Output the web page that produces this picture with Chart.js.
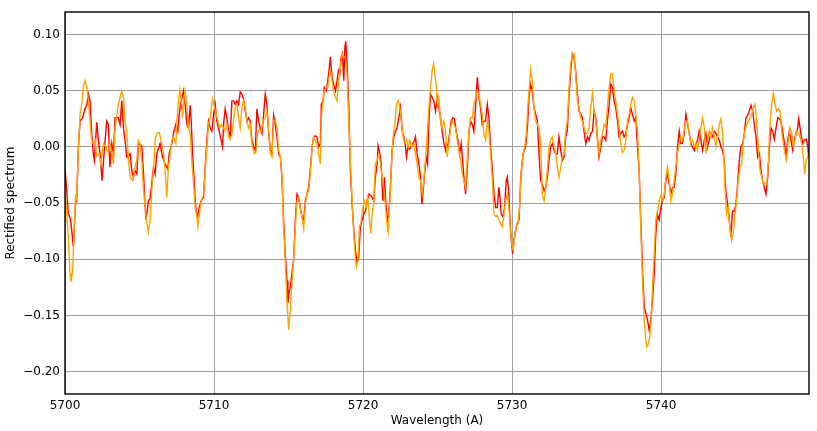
<!DOCTYPE html>
<html><head><meta charset="utf-8">
<script src="https://cdn.jsdelivr.net/npm/chart.js@4.4.1/dist/chart.umd.min.js"></script>
<style>html,body{margin:0;padding:0;background:#fff;}#wrap{width:817px;height:431px;}</style>
</head><body><div id="wrap"><canvas id="c" width="817" height="431"></canvas></div>
<script>
// wavelengths are stored as offsets (A) from this start value
const wavelengthStart = 5700;

const redOffsets = [0.00,0.22,0.38,0.47,0.56,0.65,0.74,0.78,0.90,1.01,1.19,1.34,1.46,1.57,1.68,1.79,1.90,1.97,2.13,2.24,2.35,2.49,2.62,2.80,2.91,3.02,3.14,3.25,3.36,3.58,3.70,3.81,3.92,4.03,4.14,4.37,4.48,4.59,4.70,4.82,4.93,5.15,5.26,5.38,5.44,5.60,5.71,5.82,5.94,
6.05,6.16,6.38,6.54,6.72,6.90,6.99,7.17,7.28,7.44,7.57,7.66,7.80,7.95,8.06,8.18,8.29,8.40,8.47,8.56,8.67,8.74,8.81,8.92,9.01,9.14,9.30,9.41,9.52,9.63,9.74,9.86,9.97,10.08,10.19,10.35,10.48,10.57,10.66,10.75,10.86,10.98,11.09,11.20,11.31,11.42,11.54,11.65,11.76,11.87,11.98,12.10,12.21,12.32,
12.43,12.54,12.66,12.77,12.88,12.99,13.10,13.22,13.33,13.44,13.55,13.66,13.78,13.89,14.00,14.11,14.22,14.34,14.45,14.56,14.67,14.78,14.90,14.96,15.03,15.12,15.23,15.34,15.46,15.57,15.68,15.79,15.90,16.02,16.13,16.24,16.35,16.46,16.58,16.69,16.80,16.91,17.02,17.14,17.20,17.32,17.40,17.54,17.63,17.72,17.81,17.92,18.03,18.15,18.26,18.35,18.44,18.53,18.62,18.71,18.78,18.84,18.93,19.04,
19.15,19.27,19.38,19.49,19.60,19.71,19.82,19.94,20.05,20.16,20.27,20.39,20.50,20.61,20.72,20.83,20.95,21.01,21.13,21.22,21.33,21.44,21.55,21.64,21.73,21.84,21.95,22.07,22.18,22.29,22.40,22.51,22.63,22.74,22.85,22.92,23.01,23.12,23.23,23.34,23.46,23.52,23.63,23.75,23.86,23.95,24.04,24.13,24.24,24.33,24.42,24.53,24.64,24.75,24.87,24.98,25.09,25.20,25.31,25.43,25.54,
25.60,25.69,25.81,25.92,26.03,26.14,26.25,26.37,26.48,26.59,26.68,26.77,26.88,26.99,27.11,27.22,27.33,27.44,27.55,27.67,27.78,27.89,28.00,28.11,28.23,28.34,28.45,28.56,28.67,28.79,28.90,29.01,29.12,29.19,29.28,29.39,29.50,29.61,29.68,29.79,29.86,29.95,30.04,30.13,30.24,30.36,30.47,30.58,30.69,30.80,30.91,31.03,31.14,31.25,31.36,31.47,31.59,31.70,31.81,31.92,
32.03,32.15,32.26,32.37,32.48,32.59,32.71,32.82,32.93,33.04,33.15,33.27,33.38,33.49,33.60,33.71,33.83,33.94,34.05,34.16,34.27,34.39,34.50,34.61,34.72,34.83,34.95,35.06,35.17,35.28,35.40,35.51,35.62,35.73,35.84,35.96,36.07,36.18,36.29,36.40,36.52,36.63,36.74,36.85,36.96,37.08,37.19,37.30,37.41,37.52,37.64,37.75,37.86,37.97,38.08,38.20,38.31,
38.42,38.53,38.64,38.76,38.87,38.98,39.09,39.20,39.31,39.43,39.54,39.65,39.76,39.87,39.99,40.10,40.21,40.32,40.43,40.55,40.66,40.77,40.88,40.99,41.11,41.22,41.33,41.44,41.55,41.67,41.78,41.89,42.00,42.11,42.23,42.34,42.45,42.56,42.67,42.79,42.90,43.01,43.12,43.23,43.35,43.46,43.57,43.68,43.79,43.91,44.02,44.13,44.24,
44.35,44.47,44.58,44.69,44.80,44.92,45.03,45.14,45.25,45.36,45.48,45.59,45.70,45.81,45.92,46.04,46.15,46.26,46.37,46.48,46.60,46.71,46.82,46.93,47.04,47.16,47.27,47.38,47.49,47.60,47.72,47.83,47.94,48.05,48.16,48.28,48.39,48.50,48.61,48.72,48.84,48.95,49.06,49.17,49.24,49.33,49.42,49.51,49.62,49.74,49.85,49.91];

const redFlux = [-0.018,-0.059,-0.065,-0.077,-0.089,-0.065,-0.042,-0.049,0.000,0.023,0.026,0.034,0.037,0.047,0.041,0.012,-0.006,-0.012,0.022,0.006,-0.006,-0.030,-0.006,0.023,0.020,-0.018,0.003,-0.006,0.026,0.026,0.020,0.041,0.017,0.006,-0.009,-0.006,-0.021,-0.027,-0.021,-0.024,0.003,0.001,-0.021,-0.054,-0.065,-0.048,-0.046,-0.033,-0.018,
-0.024,-0.006,0.003,-0.009,-0.015,-0.020,-0.006,0.003,0.012,0.020,0.014,0.029,0.041,0.050,0.038,0.020,0.017,0.037,0.023,-0.006,-0.030,-0.048,-0.057,-0.062,-0.054,-0.048,-0.045,-0.018,0.006,0.023,0.017,0.014,0.029,0.038,0.023,0.014,0.006,0.000,0.023,0.034,0.026,0.014,0.009,0.041,0.041,0.038,0.041,0.038,0.049,0.047,0.043,0.032,0.023,0.026,
0.023,0.006,0.000,-0.003,0.034,0.023,0.017,0.012,0.029,0.047,0.038,0.014,-0.003,-0.006,0.028,0.020,0.009,-0.006,-0.009,-0.027,-0.065,-0.095,-0.119,-0.139,-0.130,-0.125,-0.113,-0.101,-0.065,-0.042,-0.045,-0.054,-0.062,-0.065,-0.048,-0.042,-0.036,-0.021,0.000,0.009,0.010,0.009,0.000,0.003,0.038,0.041,0.053,0.050,0.059,0.068,0.080,0.062,0.056,0.050,0.059,0.068,0.065,0.080,0.083,0.059,0.088,0.094,0.074,0.038,
-0.021,-0.051,-0.074,-0.092,-0.102,-0.099,-0.071,-0.065,-0.060,-0.057,-0.048,-0.042,-0.043,-0.045,-0.048,-0.027,-0.015,0.001,-0.006,-0.015,-0.048,-0.027,-0.054,-0.065,-0.060,-0.036,-0.003,0.009,0.014,0.017,0.026,0.035,0.014,0.009,0.000,-0.009,0.000,-0.002,0.000,0.003,0.006,0.009,-0.006,-0.015,-0.027,-0.051,-0.039,-0.024,-0.009,-0.015,0.023,0.047,0.044,0.041,0.032,0.044,0.035,0.026,0.014,0.003,-0.003,
0.003,0.000,0.012,0.023,0.026,0.025,0.014,0.006,-0.006,0.003,-0.012,-0.027,-0.042,-0.021,0.014,0.023,0.020,0.014,0.035,0.062,0.044,0.035,0.020,0.023,0.023,0.038,0.026,0.000,-0.018,-0.042,-0.054,-0.054,-0.036,-0.045,-0.060,-0.062,-0.054,-0.030,-0.027,-0.042,-0.065,-0.083,-0.095,-0.083,-0.074,-0.068,-0.065,-0.030,-0.012,-0.003,0.000,0.017,0.044,0.056,0.050,0.035,0.029,0.023,-0.006,-0.030,
-0.033,-0.039,-0.036,-0.027,-0.012,0.000,0.003,-0.003,-0.006,-0.006,0.009,-0.003,-0.012,-0.009,0.009,0.014,0.047,0.068,0.083,0.080,0.068,0.047,0.032,0.029,0.026,0.014,0.003,0.009,0.006,0.012,0.014,0.032,0.026,0.009,-0.009,0.000,0.009,0.009,0.006,0.023,0.038,0.056,0.053,0.041,0.035,0.023,0.009,0.012,0.014,0.009,0.012,0.020,0.026,0.035,0.029,0.023,0.026,
0.000,-0.021,-0.065,-0.110,-0.142,-0.148,-0.154,-0.163,-0.154,-0.136,-0.113,-0.077,-0.060,-0.065,-0.054,-0.048,-0.045,-0.030,-0.024,-0.033,-0.042,-0.036,-0.036,-0.024,0.000,0.014,0.003,0.003,0.012,0.029,0.020,0.012,0.003,0.000,-0.003,0.003,0.006,0.014,0.006,-0.003,0.006,0.012,0.000,0.006,0.012,0.009,0.014,0.012,0.009,0.006,0.000,-0.003,-0.012,
-0.040,-0.051,-0.065,-0.080,-0.057,-0.057,-0.051,-0.033,-0.012,0.000,0.003,0.012,0.026,0.028,0.032,0.037,0.032,0.020,0.009,-0.009,-0.006,-0.021,-0.030,-0.036,-0.042,-0.027,0.000,0.017,0.014,0.007,0.017,0.026,0.025,0.023,0.014,0.003,-0.009,0.006,0.014,0.006,-0.003,0.006,0.012,0.017,0.025,0.017,0.009,0.003,0.006,0.007,0.000,-0.009];

const orangeOffsets = [0.00,0.22,0.34,0.40,0.52,0.60,0.72,0.78,0.90,1.01,1.12,1.23,1.34,1.46,1.57,1.68,1.79,1.90,2.02,2.13,2.28,2.40,2.58,2.76,2.91,3.02,3.14,3.25,3.36,3.58,3.70,3.81,3.92,4.03,4.14,4.26,4.37,4.55,4.70,4.82,4.93,5.04,5.15,5.26,5.38,5.49,5.60,5.71,5.82,5.94,
6.05,6.16,6.32,6.45,6.61,6.72,6.83,6.94,7.06,7.17,7.28,7.44,7.51,7.62,7.71,7.80,7.89,7.97,8.06,8.18,8.29,8.40,8.51,8.63,8.74,8.83,8.92,9.01,9.14,9.30,9.41,9.52,9.63,9.74,9.90,10.04,10.15,10.26,10.37,10.48,10.64,10.75,10.86,10.98,11.09,11.20,11.31,11.42,11.54,11.65,11.76,11.87,11.98,12.10,12.21,12.32,
12.43,12.54,12.70,12.81,12.93,13.06,13.17,13.28,13.44,13.55,13.66,13.78,13.89,14.00,14.11,14.22,14.34,14.45,14.56,14.67,14.78,14.90,15.01,15.12,15.23,15.34,15.46,15.57,15.68,15.79,15.90,16.02,16.13,16.24,16.35,16.46,16.58,16.69,16.80,16.91,17.02,17.14,17.20,17.32,17.40,17.54,17.63,17.72,17.81,17.92,18.03,18.15,18.26,18.37,18.48,18.60,18.71,18.82,18.93,19.04,
19.15,19.27,19.38,19.49,19.56,19.67,19.76,19.87,19.98,20.09,20.21,20.32,20.43,20.52,20.61,20.72,20.83,20.95,21.06,21.17,21.28,21.39,21.51,21.62,21.69,21.80,21.91,22.02,22.13,22.25,22.36,22.47,22.58,22.69,22.80,22.92,23.03,23.14,23.25,23.41,23.52,23.63,23.75,23.86,23.97,24.08,24.19,24.30,24.42,24.53,24.64,24.73,24.82,24.91,25.00,25.09,25.20,25.31,25.43,25.54,
25.65,25.76,25.87,25.99,26.10,26.21,26.32,26.43,26.55,26.66,26.77,26.88,26.99,27.11,27.22,27.33,27.44,27.55,27.67,27.78,27.89,28.00,28.11,28.23,28.34,28.45,28.56,28.67,28.79,28.90,29.01,29.12,29.23,29.35,29.46,29.57,29.68,29.79,29.91,30.02,30.08,30.17,30.29,30.40,30.51,30.62,30.74,30.85,30.96,31.07,31.16,31.25,31.36,31.47,31.59,31.70,31.81,31.92,
32.03,32.15,32.26,32.37,32.48,32.59,32.71,32.82,32.93,33.04,33.15,33.27,33.38,33.49,33.60,33.71,33.83,33.94,34.05,34.16,34.27,34.39,34.50,34.61,34.72,34.83,34.95,35.06,35.17,35.28,35.40,35.51,35.62,35.73,35.84,35.96,36.07,36.18,36.29,36.40,36.52,36.63,36.74,36.85,36.96,37.08,37.19,37.30,37.41,37.52,37.64,37.75,37.86,37.97,38.08,38.20,38.31,
38.42,38.53,38.64,38.76,38.87,38.98,39.04,39.15,39.25,39.34,39.43,39.54,39.65,39.76,39.87,39.99,40.10,40.21,40.32,40.43,40.55,40.66,40.77,40.88,40.99,41.11,41.22,41.33,41.44,41.55,41.67,41.78,41.89,42.00,42.11,42.23,42.34,42.45,42.56,42.67,42.79,42.90,43.01,43.12,43.23,43.35,43.46,43.57,43.68,43.79,43.91,44.02,44.13,44.24,
44.29,44.40,44.51,44.62,44.74,44.85,44.96,45.07,45.18,45.30,45.41,45.52,45.63,45.74,45.86,45.97,46.08,46.20,46.31,46.42,46.53,46.64,46.76,46.87,46.98,47.09,47.20,47.31,47.42,47.54,47.65,47.76,47.87,47.99,48.10,48.21,48.32,48.43,48.54,48.66,48.77,48.88,48.99,49.10,49.22,49.33,49.44,49.55,49.64,49.74,49.85,49.91];

const orangeFlux = [-0.036,-0.080,-0.113,-0.120,-0.110,-0.077,-0.042,-0.048,0.000,0.029,0.038,0.054,0.059,0.053,0.041,0.023,0.006,0.003,0.006,-0.008,-0.006,-0.015,0.003,0.000,-0.006,0.003,-0.005,-0.015,0.017,0.038,0.044,0.050,0.044,0.023,0.014,-0.012,-0.027,-0.030,-0.018,-0.012,0.006,0.003,-0.012,-0.036,-0.054,-0.068,-0.076,-0.065,-0.039,-0.021,
0.006,0.012,0.013,0.006,-0.006,-0.021,-0.045,-0.018,-0.006,0.006,0.009,0.003,0.023,0.041,0.051,0.041,0.026,0.041,0.050,0.035,0.017,0.012,-0.012,-0.033,-0.054,-0.060,-0.071,-0.060,-0.049,-0.042,-0.021,0.000,0.020,0.026,0.043,0.035,0.029,0.023,0.017,0.020,0.017,0.014,0.020,0.009,0.007,0.012,0.023,0.035,0.038,0.026,0.017,0.035,0.041,0.035,0.023,0.017,
0.020,0.003,-0.006,-0.005,0.012,0.016,0.014,0.023,0.026,0.032,0.017,-0.006,-0.009,0.023,0.025,0.017,-0.003,-0.008,-0.027,-0.071,-0.101,-0.139,-0.163,-0.145,-0.122,-0.101,-0.071,-0.048,-0.045,-0.054,-0.062,-0.073,-0.051,-0.042,-0.039,-0.024,0.000,0.009,0.006,0.003,-0.006,-0.015,0.026,0.041,0.050,0.053,0.053,0.062,0.068,0.059,0.050,0.044,0.041,0.062,0.071,0.083,0.080,0.080,0.065,0.023,
-0.012,-0.048,-0.077,-0.101,-0.107,-0.101,-0.071,-0.067,-0.054,-0.048,-0.054,-0.045,-0.065,-0.077,-0.060,-0.048,-0.015,-0.012,-0.006,-0.015,-0.027,-0.036,-0.054,-0.071,-0.076,-0.048,-0.015,0.009,0.020,0.038,0.041,0.035,0.023,0.009,0.003,0.006,0.000,0.006,0.000,0.003,-0.006,-0.015,-0.027,-0.030,-0.042,-0.030,-0.012,0.009,0.035,0.053,0.068,0.074,0.065,0.056,0.035,0.044,0.023,0.017,0.023,0.015,
-0.009,0.003,0.017,0.023,0.020,0.017,0.006,-0.003,-0.012,-0.024,-0.030,-0.036,-0.012,0.014,0.026,0.026,0.038,0.044,0.050,0.047,0.038,0.029,0.012,0.006,0.023,0.014,-0.006,-0.027,-0.060,-0.062,-0.061,-0.065,-0.068,-0.071,-0.060,-0.048,-0.042,-0.054,-0.077,-0.089,-0.092,-0.080,-0.071,-0.068,-0.054,-0.021,-0.006,0.000,0.012,0.038,0.053,0.069,0.059,0.035,0.023,0.020,0.017,0.003,
-0.042,-0.048,-0.036,-0.021,0.000,0.006,0.009,0.000,-0.006,-0.018,-0.027,-0.018,-0.009,-0.006,0.014,0.023,0.053,0.074,0.083,0.083,0.065,0.041,0.035,0.026,0.023,0.017,0.012,0.012,0.017,0.035,0.048,0.032,0.023,0.006,-0.006,0.006,0.012,0.020,0.017,0.035,0.053,0.065,0.065,0.050,0.041,0.029,0.017,0.003,-0.005,-0.003,0.006,0.023,0.029,0.038,0.044,0.041,0.029,
0.014,-0.021,-0.071,-0.119,-0.154,-0.172,-0.178,-0.175,-0.169,-0.154,-0.125,-0.095,-0.065,-0.057,-0.048,-0.043,-0.048,-0.042,-0.027,-0.018,-0.030,-0.048,-0.042,-0.030,-0.018,-0.006,0.003,0.009,0.006,0.014,0.023,0.023,0.012,0.003,0.006,0.000,0.003,-0.003,0.006,0.017,0.026,0.017,-0.006,0.006,0.014,0.009,0.017,0.009,0.000,0.009,0.020,0.025,0.012,-0.015,
-0.036,-0.060,-0.054,-0.071,-0.083,-0.077,-0.060,-0.048,-0.030,-0.018,-0.015,0.006,0.014,0.020,0.023,0.026,0.029,0.035,0.038,0.023,0.000,-0.021,-0.027,-0.033,-0.032,-0.033,-0.015,0.020,0.038,0.048,0.038,0.032,0.034,0.032,0.014,0.003,-0.006,-0.012,0.006,0.017,0.012,0.000,0.006,0.014,0.012,0.009,0.003,-0.009,-0.024,-0.012,-0.009,-0.006];

const xTicks = [5700, 5710, 5720, 5730, 5740];
const yTicks = [0.10, 0.05, 0.00, -0.05, -0.10, -0.15, -0.20];
const xLimits = [5700, 5749.93];
const yLimits = [-0.22, 0.12];

function toPoints(offsets, flux) {
  return offsets.map((o, i) => ({ x: wavelengthStart + o, y: flux[i] }));
}

const framePlugin = {
  id: 'frame',
  afterDraw(chart) {
    const { ctx, chartArea: a } = chart;
    ctx.save();
    ctx.strokeStyle = '#000';
    ctx.lineWidth = 1.4;
    ctx.strokeRect(Math.round(a.left), Math.round(a.top),
                   Math.round(a.right - a.left), Math.round(a.bottom - a.top));
    ctx.restore();
  }
};

const font = { family: "'DejaVu Sans', sans-serif", size: 12 };

new Chart(document.getElementById('c'), {
  type: 'scatter',
  data: {
    datasets: [
      { label: 'red', data: toPoints(redOffsets, redFlux), showLine: true, borderColor: '#ff0000',
        borderWidth: 1.4, pointRadius: 0, tension: 0, order: 1 },
      { label: 'orange', data: toPoints(orangeOffsets, orangeFlux), showLine: true, borderColor: '#ffa500',
        borderWidth: 1.4, pointRadius: 0, tension: 0, order: 0 }
    ]
  },
  options: {
    responsive: false,
    animation: false,
    devicePixelRatio: 1,
    layout: { padding: { left: 0, right: 8, top: 11, bottom: 0 } },
    plugins: { legend: { display: false }, tooltip: { enabled: false } },
    scales: {
      x: {
        type: 'linear', min: xLimits[0], max: xLimits[1],
        afterBuildTicks(s) { s.ticks = xTicks.map(v => ({ value: v })); },
        afterFit(s) { s.height = 37; },
        ticks: { font, color: '#000', padding: 5, maxRotation: 0, callback: v => String(v) },
        grid: { color: '#a0a0a0', lineWidth: 1, drawTicks: false },
        border: { display: false },
        title: { display: true, text: 'Wavelength (A)', font, color: '#000', padding: { top: 2, bottom: 3 } }
      },
      y: {
        type: 'linear', min: yLimits[0], max: yLimits[1],
        afterBuildTicks(s) { s.ticks = yTicks.map(v => ({ value: v })); },
        afterFit(s) { s.width = 65; },
        ticks: { font, color: '#000', padding: 5,
                 callback: v => (v < -1e-9 ? '\u2212' : '') + Math.abs(v).toFixed(2) },
        grid: { color: '#a0a0a0', lineWidth: 1, drawTicks: false },
        border: { display: false },
        title: { display: true, text: 'Rectified spectrum', font, color: '#000', padding: { top: 4, bottom: 4 } }
      }
    }
  },
  plugins: [framePlugin]
});
</script>
</body></html>
